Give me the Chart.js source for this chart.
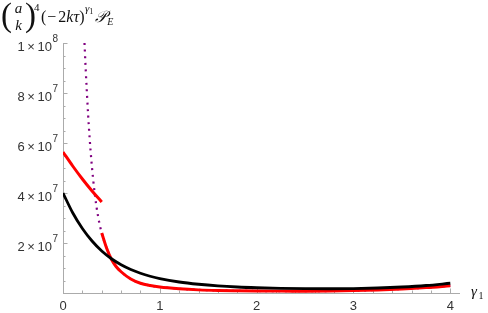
<!DOCTYPE html>
<html><head><meta charset="utf-8">
<script src="https://cdn.jsdelivr.net/npm/chart.js@4"></script>
<style>html,body{margin:0;padding:0;background:#fff}#wrap{width:488px;height:313px;position:relative}</style>
</head><body><div id="wrap"><canvas id="c"></canvas></div>
<script>
// ---- data ----
const blackX = [0,0.1,0.2,0.3,0.4,0.5,0.6,0.7,0.8,0.9,1.0,1.2,1.4,1.6,1.8,2.0,2.25,2.5,2.75,3.0,3.25,3.5,3.75,4.0];
const blackY = [4.0e7,3.21e7,2.58e7,2.08e7,1.68e7,1.37e7,1.13e7,9.4e6,7.9e6,6.7e6,5.75e6,4.4e6,3.5e6,2.85e6,2.4e6,2.1e6,1.85e6,1.72e6,1.7e6,1.78e6,2.0e6,2.4e6,3.0e6,3.9e6];
const red1X = [0,0.1,0.2,0.3,0.4];
const red1Y = [5.64e7,5.08e7,4.56e7,4.08e7,3.64e7];
const red2X = [0.4,0.45,0.5,0.55,0.6,0.7,0.8,0.9,1.0,1.2,1.4,1.6,1.8,2.0,2.25,2.5,2.75,3.0,3.25,3.5,3.75,4.0];
const red2Y = [2.4e7,1.8e7,1.35e7,1.05e7,8.5e6,5.6e6,3.9e6,3.0e6,2.4e6,1.7e6,1.25e6,1.0e6,0.88e6,0.8e6,0.75e6,0.75e6,0.8e6,0.95e6,1.2e6,1.6e6,2.15e6,2.9e6];
const purpleX = [0.222,0.235,0.247,0.26,0.275,0.293,0.31,0.327,0.344,0.361,0.378,0.4,0.45,0.5,0.55,0.6,0.7,0.8,0.9,1.0,1.2,1.4,1.6,1.8,2.0,2.25,2.5,2.75,3.0,3.25,3.5,3.75,4.0];
const purpleY = [1.0e8,8.9e7,8.0e7,7.1e7,6.2e7,5.3e7,4.6e7,4.0e7,3.5e7,3.1e7,2.75e7,2.4e7,1.8e7,1.35e7,1.05e7,8.5e6,5.6e6,3.9e6,3.0e6,2.4e6,1.7e6,1.25e6,1.0e6,0.88e6,0.8e6,0.75e6,0.75e6,0.8e6,0.95e6,1.2e6,1.6e6,2.15e6,2.9e6];
const xTickValues = [0,1,2,3,4];
const xTickLabels = ['0','1','2','3','4'];
const yTickValues = [2e7,4e7,6e7,8e7,1e8];
const yTickMantissa = ['2\u2009×\u200910','4\u2009×\u200910','6\u2009×\u200910','8\u2009×\u200910','1\u2009×\u200910'];
const yTickExponent = ['7','7','7','7','8'];

const pts = (xs, ys) => xs.map((x, i) => ({x: x, y: ys[i]}));

const AXIS = '#ababab';
const LABEL = '#333333';
const SANS = '"Liberation Sans", Arial, sans-serif';

const decor = {
  id: 'decor',
  beforeDatasetsDraw(chart) {
    const ctx = chart.ctx, xs = chart.scales.x, ys = chart.scales.y;
    const x0 = xs.getPixelForValue(0), y0 = ys.getPixelForValue(0);
    ctx.save();
    ctx.strokeStyle = AXIS; ctx.lineWidth = 1;
    ctx.beginPath();
    ctx.moveTo(x0 + 0.5, y0); ctx.lineTo(x0 + 0.5, ys.getPixelForValue(ys.max));
    ctx.moveTo(x0, y0 + 0.5); ctx.lineTo(xs.getPixelForValue(xs.max), y0 + 0.5);
    for (let i = 0; i <= 20; i++) {
      const v = i * 0.2, p = Math.round(xs.getPixelForValue(v)) + 0.5;
      const len = (i % 5 === 0) ? 4.5 : 2.5;
      ctx.moveTo(p, y0); ctx.lineTo(p, y0 - len);
    }
    for (let i = 1; i <= 20; i++) {
      const v = i * 5e6, p = Math.round(ys.getPixelForValue(v)) + 0.5;
      const len = (i % 4 === 0) ? 4.5 : 2.5;
      ctx.moveTo(x0, p); ctx.lineTo(x0 + len, p);
    }
    ctx.stroke();
    ctx.restore();
  },
  afterDraw(chart) {
    const ctx = chart.ctx, xs = chart.scales.x, ys = chart.scales.y;
    const x0 = xs.getPixelForValue(0);
    ctx.save();
    ctx.fillStyle = LABEL;
    yTickValues.forEach((v, i) => {
      const p = ys.getPixelForValue(v);
      ctx.font = '10px ' + SANS;
      ctx.textAlign = 'right'; ctx.textBaseline = 'alphabetic';
      const right = x0 - 5;
      const ew = ctx.measureText(yTickExponent[i]).width;
      ctx.fillText(yTickExponent[i], right, p - 1);
      ctx.font = '13px ' + SANS;
      ctx.fillText(yTickMantissa[i], right - ew - 0.5, p + 8);
    });
    ctx.fillStyle = '#111';
    ctx.textBaseline = 'alphabetic';
    ctx.textAlign = 'left';
    const serif = '"Liberation Serif", "Times New Roman", serif';
    ctx.font = '33px ' + serif;
    ctx.fillText('(', 1, 26);
    ctx.font = 'italic 15px ' + serif;
    ctx.textAlign = 'center';
    ctx.fillText('a', 18.5, 12.5);
    ctx.fillText('k', 18.5, 30);
    ctx.textAlign = 'left';
    ctx.font = '33px ' + serif;
    ctx.fillText(')', 25, 26);
    ctx.font = '11px ' + serif;
    ctx.fillText('4', 34, 10.5);
    let x = 41;
    const seq = [['(', ''], ['−', ''], ['2', ''], ['k', 'italic '], ['τ', 'italic '], [')', '']];
    seq.forEach(([t, st]) => {
      ctx.font = st + '16px ' + serif;
      ctx.fillText(t, x, 22);
      x += ctx.measureText(t).width + (t === '−' ? 2 : 0);
      if (t === '(') x += 1;
    });
    x += 0.5;
    ctx.font = 'italic 11px ' + serif;
    ctx.fillText('γ', x, 12);
    x += ctx.measureText('γ').width;
    ctx.font = '8px ' + serif;
    ctx.fillText('1', x, 13.5);
    x += ctx.measureText('1').width + 2;
    ctx.font = 'italic 16px ' + serif;
    ctx.fillText('𝒫', x, 22);
    x += ctx.measureText('𝒫').width;
    ctx.font = 'italic 10px ' + serif;
    ctx.fillText('E', x, 25);
    ctx.font = 'italic 15px ' + serif;
    ctx.fillText('γ', 471, 296);
    ctx.font = '10px ' + serif;
    ctx.fillText('1', 478.5, 298.5);
    ctx.restore();
  }
};

new Chart(document.getElementById('c'), {
  type: 'line',
  data: {
    datasets: [
      {data: pts(blackX, blackY), borderColor: '#000', borderWidth: 2.8, pointRadius: 0, cubicInterpolationMode: 'monotone', fill: false},
      {data: pts(red1X, red1Y), borderColor: '#ff0000', borderWidth: 3, pointRadius: 0, cubicInterpolationMode: 'monotone', fill: false},
      {data: pts(red2X, red2Y), borderColor: '#ff0000', borderWidth: 3, pointRadius: 0, cubicInterpolationMode: 'monotone', fill: false},
      {data: pts(purpleX, purpleY), borderColor: '#800080', borderWidth: 2.2, borderDash: [2, 4.6], borderCapStyle: 'butt', pointRadius: 0, cubicInterpolationMode: 'monotone', fill: false}
    ]
  },
  options: {
    responsive: true, maintainAspectRatio: false, animation: false,
    devicePixelRatio: 1,
    layout: {padding: {left: 0, top: 43, right: 28, bottom: 0}},
    plugins: {legend: {display: false}, tooltip: {enabled: false}},
    scales: {
      x: {
        type: 'linear', min: 0, max: 4.1,
        grid: {display: false, drawTicks: false}, border: {display: false},
        afterBuildTicks: s => { s.ticks = xTickValues.map(v => ({value: v})); },
        afterFit: s => { s.height = 20; },
        ticks: {
          padding: 6, color: LABEL, maxRotation: 0, autoSkip: false,
          font: {family: SANS, size: 13},
          callback: (v) => xTickLabels[xTickValues.indexOf(v)] ?? ''
        }
      },
      y: {
        type: 'linear', min: 0, max: 1e8,
        grid: {display: false, drawTicks: false}, border: {display: false},
        afterBuildTicks: s => { s.ticks = yTickValues.map(v => ({value: v})); },
        afterFit: s => { s.width = 63; },
        ticks: {display: false}
      }
    }
  },
  plugins: [decor]
});
</script>
</body></html>
